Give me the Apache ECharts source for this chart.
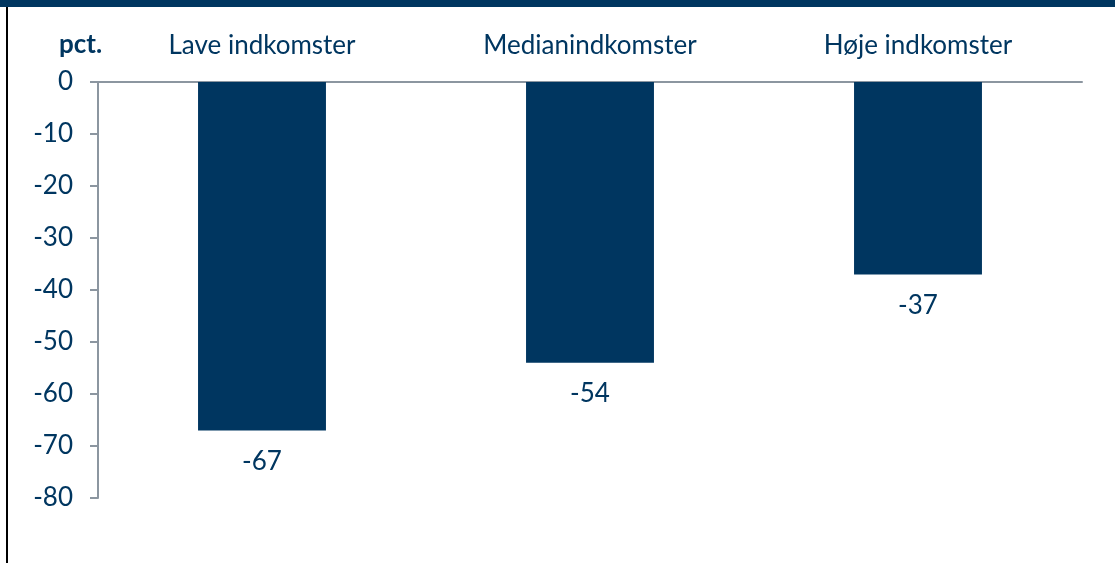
<!DOCTYPE html>
<html><head><meta charset="utf-8">
<script src="https://cdn.jsdelivr.net/npm/echarts@6/dist/echarts.min.js"></script>
<style>html,body{margin:0;padding:0;background:#fff}#c{width:1115px;height:563px}</style>
</head><body><div id="c"></div>
<script>
const categories = ['Lave indkomster', 'Medianindkomster', 'Høje indkomster'];
const values = [-67, -54, -37];
const yMin = -80, yMax = 0, yStep = 10;
const unitLabel = 'pct.';

const navy = '#003660';
const chart = echarts.init(document.getElementById('c'));
chart.setOption({
  animation: false,
  textStyle: { fontFamily: 'Lato' },
  grid: { left: 98, right: 33, top: 82, bottom: 65 },
  xAxis: {
    type: 'category', data: categories, position: 'top',
    axisLine: { lineStyle: { color: '#8C96A0', width: 2 } },
    axisTick: { inside: true, length: 8, lineStyle: { color: '#8C96A0', width: 2 } },
    axisLabel: { color: navy, fontSize: 26, fontFamily: 'Lato', margin: 23 }
  },
  yAxis: {
    type: 'value', min: yMin, max: yMax, interval: yStep,
    axisLine: { show: true, lineStyle: { color: '#8C96A0', width: 2 } },
    axisTick: { show: true, length: 8, lineStyle: { color: '#8C96A0', width: 2 } },
    splitLine: { show: false },
    axisLabel: { color: navy, fontSize: 26, fontFamily: 'Lato', margin: 25 }
  },
  series: [{
    type: 'bar', data: values, barWidth: '39%',
    itemStyle: { color: navy },
    label: { show: true, position: 'bottom', distance: 18, color: navy, fontSize: 26, fontFamily: 'Lato' }
  }],
  graphic: [
    { type: 'rect', left: 0, top: 0, shape: { width: 1115, height: 7 }, style: { fill: navy } },
    { type: 'rect', left: 6, top: 7, shape: { width: 2, height: 556 }, style: { fill: '#000' } },
    { type: 'text', left: 59, top: 32, style: { text: unitLabel, fill: navy, font: 'bold 26px Lato' } }
  ]
});
</script></body></html>
